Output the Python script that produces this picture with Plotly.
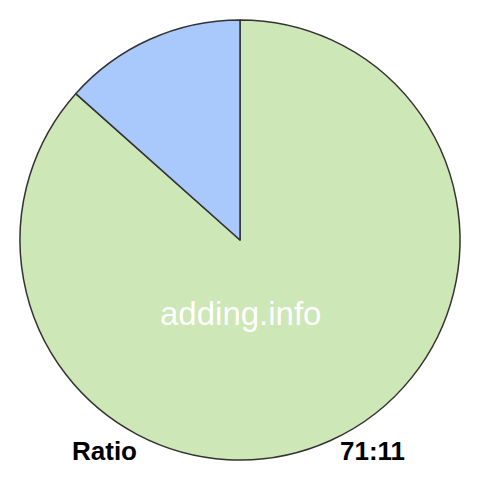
import plotly.graph_objects as go

labels = ["71", "11"]
values = [71, 11]
colors = ["#cde7b7", "#a9c8fb"]
ratio_label = "Ratio"
ratio_text = "71:11"
watermark = "adding.info"

fig = go.Figure(go.Pie(
    labels=labels,
    values=values,
    sort=False,
    direction="clockwise",
    rotation=0,
    marker=dict(colors=colors, line=dict(color="#333333", width=1.5)),
    textinfo="none",
    hoverinfo="none",
    showlegend=False,
    domain=dict(x=[0, 1], y=[0, 1]),
))

fig.update_layout(
    width=480, height=480,
    margin=dict(l=20, r=20, t=20, b=20),
    paper_bgcolor="white",
    plot_bgcolor="white",
    font=dict(family="Liberation Sans, Arial, sans-serif"),
    annotations=[
        dict(text=watermark, x=0.5, y=0.332, xref="paper", yref="paper",
             showarrow=False, font=dict(size=33, color="white"),
             xanchor="center", yanchor="middle"),
        dict(text="<b>" + ratio_label + "</b>", x=0.191, y=0.02, xref="paper", yref="paper",
             showarrow=False, font=dict(size=26, color="black"),
             xanchor="center", yanchor="middle"),
        dict(text="<b>" + ratio_text + "</b>", x=0.802, y=0.02, xref="paper", yref="paper",
             showarrow=False, font=dict(size=26, color="black"),
             xanchor="center", yanchor="middle"),
    ],
)

fig.write_html("out.html", config={"displayModeBar": False},
               post_script="document.body.style.margin='0';")
